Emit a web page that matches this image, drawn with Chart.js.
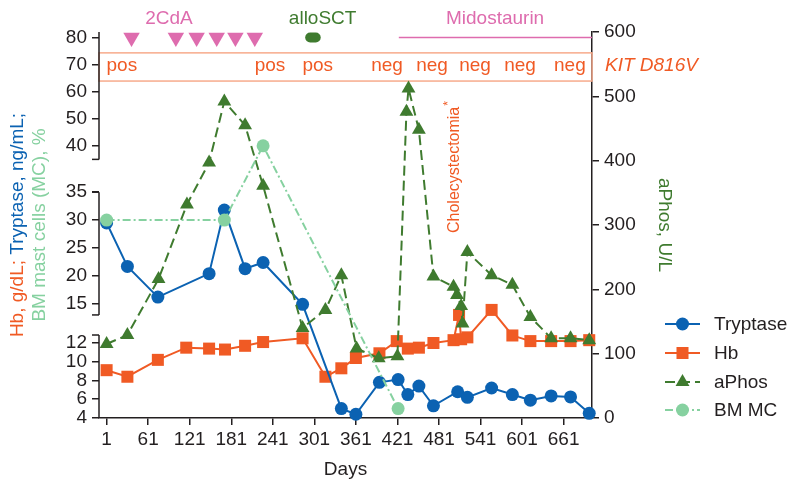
<!DOCTYPE html>
<html>
<head>
<meta charset="utf-8">
<script src="https://cdn.jsdelivr.net/npm/chart.js@4/dist/chart.umd.min.js"></script>
<style>
  html, body { margin: 0; padding: 0; background: #fff; }
  #wrap { width: 800px; height: 491px; }
</style>
</head>
<body>
<div id="wrap"><canvas id="chart" width="800" height="491"></canvas></div>
<script>
// ---- data (x = days) ----
const tryptaseDays = [1, 31, 75, 149, 171, 201, 227, 284, 340, 361, 395, 422, 436, 452, 473, 508, 522, 557, 587, 613, 643, 671, 698];
const tryptase     = [29.5, 21.7, 16.2, 20.4, 31.8, 21.3, 22.4, 14.9, 5.0, 4.4, 7.8, 8.1, 6.5, 7.4, 5.3, 6.8, 6.2, 7.2, 6.5, 5.9, 6.35, 6.25, 4.5];

const hbDays = [1, 31, 75, 116, 149, 172, 201, 227, 284, 317, 340, 361, 395, 420, 436, 452, 473, 502, 510, 513, 522, 557, 587, 613, 643, 671, 698];
const hb     = [9.1, 8.4, 10.2, 11.5, 11.4, 11.3, 11.7, 12.1, 12.5, 8.4, 9.3, 10.4, 10.9, 12.2, 11.4, 11.5, 12.0, 12.3, 13.0, 12.4, 12.6, 13.9, 12.8, 12.2, 12.2, 12.2, 12.3];

const aphosDays = [1, 31, 76, 117, 149, 171, 201, 227, 284, 317, 340, 362, 394, 421, 434, 437, 452, 473, 502, 507, 513, 515, 522, 557, 587, 613, 643, 671, 698];
const aphos     = [115, 129, 216, 332, 397, 492, 455, 361, 140, 168, 222, 108, 93, 96, 476, 512, 448, 220, 204, 191, 174, 147, 258, 222, 207, 157, 124, 124, 121];

const bmmcDays = [1, 171, 227, 422];
const bmmc     = [30, 30, 40, 5.0];

// treatments (shown on the top row of the left axis)
const treatmentRow = 80;
const cdaDays = [37, 101, 131, 160, 187, 215];
const alloSctDays = [295, 303];
const midoDays = [423, 702];

// KIT D816V results (row at 70 on the left axis)
const kitRow = 70;
const kitDays   = [23, 237, 306, 406, 471, 533, 598, 670];
const kitLabels = ['pos', 'pos', 'pos', 'neg', 'neg', 'neg', 'neg', 'neg'];

const surgeryDay = 504;

// ticks
const dayTicks   = [1, 61, 121, 181, 241, 301, 361, 421, 481, 541, 601, 661];
const leftTicks  = [4, 6, 8, 10, 12, 15, 20, 25, 30, 35, 40, 50, 60, 70, 80];
const rightTicks = [0, 100, 200, 300, 400, 500, 600];

// ---- look ----
const FONT = '"Liberation Sans", Arial, Helvetica, sans-serif';
const INK = '#231f20';
const BLUE = '#0b62b2', ORANGE = '#f05a24', GREEN = '#3f7b2f', LIGHT = '#86d1a0', PINK = '#de6cae', BAND = '#f7ab8c';

// left axis is broken into three bands: value range -> share of plot height (from bottom)
const leftBands = [
  { from: 4,  to: 12.85, lo: 0,     hi: 0.215 },
  { from: 13, to: 35,    lo: 0.267, hi: 0.585 },
  { from: 35, to: 82,    lo: 0.670, hi: 1 }
];

function valueToFrac(v) {
  const b = leftBands;
  for (let i = 0; i < b.length; i++) {
    const s = b[i];
    if (v <= s.to || i === b.length - 1) {
      if (v >= s.from || i === 0) return s.lo + (v - s.from) / (s.to - s.from) * (s.hi - s.lo);
      const p = b[i - 1];
      return p.hi + (v - p.to) / (s.from - p.to) * (s.lo - p.hi);
    }
  }
}

function fracToValue(f) {
  const b = leftBands;
  for (let i = 0; i < b.length; i++) {
    const s = b[i];
    if (f <= s.hi || i === b.length - 1) {
      if (f >= s.lo || i === 0) return s.from + (f - s.lo) / (s.hi - s.lo) * (s.to - s.from);
      const p = b[i - 1];
      return p.to + (f - p.hi) / (s.lo - p.hi) * (s.from - p.to);
    }
  }
}

class BrokenScale extends Chart.LinearScale {
  getPixelForValue(value) {
    return this.getPixelForDecimal(valueToFrac(value));
  }
  getValueForPixel(pixel) {
    return fracToValue(this.getDecimalForPixel(pixel));
  }
}
BrokenScale.id = 'broken';
BrokenScale.defaults = {};
Chart.register(BrokenScale);

function pts(xs, ys) {
  return xs.map((d, i) => ({ x: d, y: ys[i] }));
}
function row(xs, v) {
  return xs.map(d => ({ x: d, y: v }));
}

function marker(ctx, style, x, y, r, color) {
  ctx.fillStyle = color;
  ctx.beginPath();
  if (style === 'circle') {
    ctx.arc(x, y, r, 0, Math.PI * 2);
  } else if (style === 'rect') {
    const s = r * Math.SQRT1_2;
    ctx.rect(x - s, y - s, 2 * s, 2 * s);
  } else {
    ctx.moveTo(x, y - r);
    ctx.lineTo(x + r * Math.sin(2 * Math.PI / 3), y - r * Math.cos(2 * Math.PI / 3));
    ctx.lineTo(x + r * Math.sin(4 * Math.PI / 3), y - r * Math.cos(4 * Math.PI / 3));
    ctx.closePath();
  }
  ctx.fill();
}

function rotatedRuns(ctx, runs, cx, cy, angle) {
  ctx.save();
  ctx.translate(cx, cy);
  ctx.rotate(angle);
  ctx.textAlign = 'left';
  ctx.textBaseline = 'middle';
  const total = runs.reduce((w, r) => w + ctx.measureText(r[0]).width, 0);
  let xx = -total / 2;
  runs.forEach(([t, c]) => {
    ctx.fillStyle = c;
    ctx.fillText(t, xx, 0);
    xx += ctx.measureText(t).width;
  });
  ctx.restore();
}

const legendItems = [
  { label: 'Tryptase', color: BLUE,   style: 'circle',   r: 6.5, dash: [] },
  { label: 'Hb',       color: ORANGE, style: 'rect',     r: 8.5, dash: [] },
  { label: 'aPhos',    color: GREEN,  style: 'triangle', r: 8,   dash: [10, 5] },
  { label: 'BM MC',    color: LIGHT,  style: 'circle',   r: 6.5, dash: [8, 3, 2, 3] }
];

const decor = {
  id: 'decor',
  beforeDatasetsDraw(chart) {
    const ctx = chart.ctx, xs = chart.scales.x, yl = chart.scales.yL, a = chart.chartArea;
    ctx.save();
    // KIT D816V band
    const bTop = yl.getPixelForValue(74.3), bBot = yl.getPixelForValue(63.9);
    ctx.strokeStyle = BAND;
    ctx.lineWidth = 1.5;
    ctx.strokeRect(a.left, bTop, a.right - a.left, bBot - bTop);
    ctx.restore();
  },
  afterDraw(chart) {
    const ctx = chart.ctx, xs = chart.scales.x, yl = chart.scales.yL, a = chart.chartArea;
    ctx.save();

    // broken left axis line with end caps
    ctx.strokeStyle = INK;
    ctx.lineWidth = 1.5;
    leftBands.forEach(b => {
      const y0 = yl.getPixelForDecimal(b.lo), y1 = yl.getPixelForDecimal(b.hi);
      ctx.beginPath();
      ctx.moveTo(a.left, y0);
      ctx.lineTo(a.left, y1);
      ctx.stroke();
      [y0, y1].forEach(y => {
        if (y > a.top + 1 && y < a.bottom - 1) {
          ctx.beginPath();
          ctx.moveTo(a.left - 7, y);
          ctx.lineTo(a.left, y);
          ctx.stroke();
        }
      });
    });

    ctx.font = '19px ' + FONT;
    ctx.textBaseline = 'middle';

    // treatment labels
    ctx.textAlign = 'center';
    ctx.fillStyle = PINK;
    ctx.fillText('2CdA', xs.getPixelForValue(91), a.top - 13);
    ctx.fillStyle = GREEN;
    ctx.fillText('alloSCT', xs.getPixelForValue(313), a.top - 13);
    ctx.fillStyle = PINK;
    ctx.fillText('Midostaurin', xs.getPixelForValue(562), a.top - 13);

    // KIT results
    ctx.fillStyle = ORANGE;
    const ky = yl.getPixelForValue(kitRow) + 1;
    kitDays.forEach((d, i) => ctx.fillText(kitLabels[i], xs.getPixelForValue(d), ky));
    ctx.textAlign = 'left';
    ctx.font = 'italic 19px ' + FONT;
    ctx.fillText('KIT D816V', a.right + 13, ky);

    // surgery note
    ctx.save();
    ctx.translate(xs.getPixelForValue(surgeryDay), 233);
    ctx.rotate(-Math.PI / 2);
    ctx.font = '16px ' + FONT;
    ctx.fillStyle = ORANGE;
    ctx.textAlign = 'left';
    ctx.fillText('Cholecystectomia', 0, 0);
    const w = ctx.measureText('Cholecystectomia').width;
    ctx.font = '12px ' + FONT;
    ctx.fillText('*', w + 1, -6);
    ctx.restore();

    // axis titles
    ctx.font = '19px ' + FONT;
    const cy = (a.top + a.bottom) / 2;
    rotatedRuns(ctx, [['Hb, g/dL; ', ORANGE], ['Tryptase, ng/mL;', BLUE]], 18, cy, -Math.PI / 2);
    rotatedRuns(ctx, [['BM mast cells (MC), %', LIGHT]], 40, cy, -Math.PI / 2);
    rotatedRuns(ctx, [['aPhos, U/L', GREEN]], 664, cy, Math.PI / 2);

    // legend
    const rowsY = [324, 353, 382, 410];
    legendItems.forEach((it, i) => {
      const y = rowsY[i];
      ctx.strokeStyle = it.color;
      ctx.lineWidth = 2;
      ctx.setLineDash(it.dash);
      ctx.beginPath();
      ctx.moveTo(665, y);
      ctx.lineTo(700, y);
      ctx.stroke();
      ctx.setLineDash([]);
      marker(ctx, it.style, 682.5, y, it.r, it.color);
      ctx.fillStyle = INK;
      ctx.textAlign = 'left';
      ctx.fillText(it.label, 714, y + 1);
    });

    ctx.restore();
  }
};

Chart.defaults.font.family = FONT;
Chart.defaults.font.size = 19;
Chart.defaults.color = INK;

const axisGrid = { drawOnChartArea: false, color: INK, lineWidth: 1.5, tickLength: 7 };

new Chart(document.getElementById('chart'), {
  type: 'line',
  data: {
    datasets: [
      {
        label: 'BM MC', data: pts(bmmcDays, bmmc), yAxisID: 'yL',
        borderColor: LIGHT, backgroundColor: LIGHT, borderWidth: 2, borderDash: [8, 3, 2, 3],
        pointStyle: 'circle', pointRadius: 6.5, pointBorderWidth: 0
      },
      {
        label: 'aPhos', data: pts(aphosDays, aphos), yAxisID: 'yR',
        borderColor: GREEN, backgroundColor: GREEN, borderWidth: 2, borderDash: [10, 5],
        pointStyle: 'triangle', pointRadius: 8, pointBorderWidth: 0
      },
      {
        label: 'Tryptase', data: pts(tryptaseDays, tryptase), yAxisID: 'yL',
        borderColor: BLUE, backgroundColor: BLUE, borderWidth: 2,
        pointStyle: 'circle', pointRadius: 6.5, pointBorderWidth: 0
      },
      {
        label: 'Hb', data: pts(hbDays, hb), yAxisID: 'yL',
        borderColor: ORANGE, backgroundColor: ORANGE, borderWidth: 2,
        pointStyle: 'rect', pointRadius: 8.5, pointBorderWidth: 0
      },
      {
        label: '2CdA', data: row(cdaDays, treatmentRow), yAxisID: 'yL', showLine: false,
        borderColor: PINK, backgroundColor: PINK,
        pointStyle: 'triangle', pointRotation: 180, pointRadius: 9.5, pointBorderWidth: 0
      },
      {
        label: 'alloSCT', data: row(alloSctDays, treatmentRow), yAxisID: 'yL',
        borderColor: GREEN, borderWidth: 10, borderCapStyle: 'round', pointRadius: 0
      },
      {
        label: 'Midostaurin', data: row(midoDays, treatmentRow), yAxisID: 'yL',
        borderColor: PINK, borderWidth: 1.5, pointRadius: 0
      }
    ]
  },
  options: {
    responsive: false,
    animation: false,
    devicePixelRatio: 1,
    layout: { padding: { top: 32, left: 0, right: 0, bottom: 0 } },
    elements: { line: { tension: 0 } },
    datasets: { line: { clip: false } },
    plugins: { legend: { display: false }, tooltip: { enabled: false } },
    scales: {
      x: {
        type: 'linear', position: 'bottom', min: -10, max: 702,
        grid: axisGrid,
        border: { display: true, color: INK, width: 1.5 },
        ticks: { padding: 3, maxRotation: 0, callback: v => v },
        afterBuildTicks: s => { s.ticks = dayTicks.map(v => ({ value: v })); },
        afterFit: s => { s.height = 73; },
        title: { display: true, text: 'Days', color: INK, font: { size: 19 }, padding: { top: 0, bottom: 10 } }
      },
      yL: {
        type: 'broken', position: 'left', min: 4, max: 82,
        grid: axisGrid,
        border: { display: false },
        ticks: { padding: 5, callback: v => v },
        afterBuildTicks: s => { s.ticks = leftTicks.map(v => ({ value: v })); },
        afterFit: s => { s.width = 99; }
      },
      yR: {
        type: 'linear', position: 'right', min: 0, max: 600,
        grid: axisGrid,
        border: { display: true, color: INK, width: 1.5 },
        ticks: { padding: 5, callback: v => v },
        afterBuildTicks: s => { s.ticks = rightTicks.map(v => ({ value: v })); },
        afterFit: s => { s.width = 208; }
      }
    }
  },
  plugins: [decor]
});
</script>
</body>
</html>
